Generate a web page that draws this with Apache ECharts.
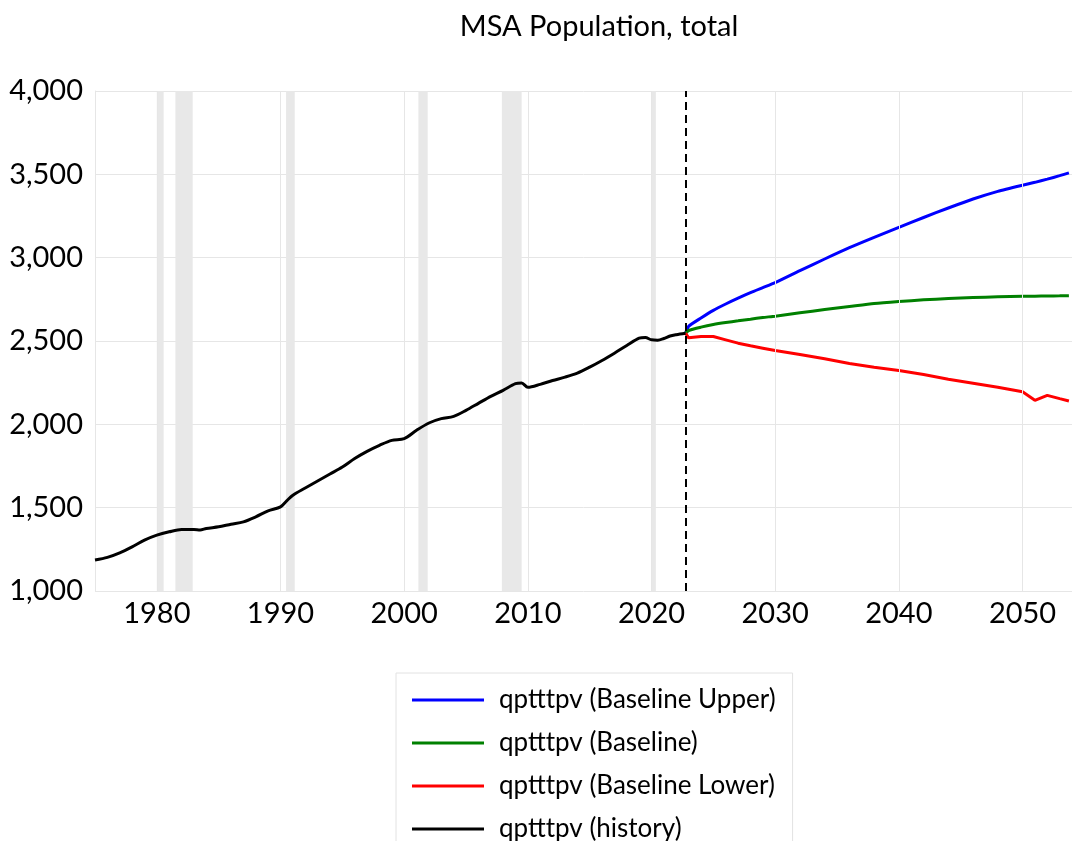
<!DOCTYPE html>
<html>
<head>
<meta charset="utf-8">
<script src="https://cdn.jsdelivr.net/npm/echarts@6/dist/echarts.min.js"></script>
<style>
  html, body { margin: 0; padding: 0; background: #ffffff; }
  #chart { width: 1084px; height: 841px; }
</style>
</head>
<body>
<div id="chart"></div>
<script>
// history
const histYears = [1975, 1976, 1977, 1978, 1979, 1980, 1981, 1982, 1983, 1983.5, 1984, 1985, 1986, 1987, 1988, 1989,
  1990, 1990.5, 1991, 1992, 1993, 1994, 1995, 1996, 1997, 1998, 1999, 2000, 2001, 2002, 2003, 2004, 2005,
  2006, 2007, 2008, 2009, 2009.5, 2010, 2011, 2012, 2013, 2014, 2015, 2016, 2017, 2018, 2019, 2019.5,
  2020, 2020.5, 2021, 2021.5, 2022, 2022.75];
const histValues = [1186, 1202, 1229, 1265, 1305, 1335, 1355, 1369, 1369, 1366, 1375, 1385, 1401, 1415, 1445, 1481,
  1505, 1541, 1575, 1618, 1660, 1702, 1744, 1795, 1838, 1874, 1904, 1914, 1964, 2008, 2034, 2048, 2084,
  2126, 2168, 2204, 2244, 2248, 2222, 2240, 2263, 2283, 2307, 2343, 2383, 2427, 2473, 2517, 2521,
  2507, 2505, 2515, 2530, 2538, 2547];

// forecasts
const fcYears = [2022.75, 2023, 2024, 2025, 2026, 2027, 2028, 2029, 2030, 2032, 2034, 2036, 2038, 2040,
  2042, 2044, 2046, 2048, 2050, 2051, 2052, 2053, 2053.75];
const upperValues = [2547, 2588, 2638, 2684, 2722, 2757, 2790, 2820, 2850, 2922, 2992, 3060, 3122, 3182,
  3241, 3298, 3352, 3398, 3435, 3452, 3471, 3492, 3509];
const baseValues = [2547, 2563, 2583, 2599, 2611, 2621, 2631, 2641, 2649, 2669, 2689, 2707, 2725, 2737,
  2747, 2755, 2761, 2765, 2768, 2769, 2770, 2771, 2772];
const lowerValues = [2547, 2519, 2527, 2527, 2507, 2487, 2471, 2457, 2443, 2419, 2393, 2365, 2343, 2323,
  2299, 2271, 2247, 2223, 2195, 2144, 2174, 2154, 2140];

// recession shading [start, end]
const recessions = [[1980.0, 1980.55], [1981.5, 1982.9], [1990.45, 1991.15], [2001.15, 2001.9], [2007.9, 2009.5], [2020.0, 2020.35]];
const decades = [1980, 1990, 2000, 2010, 2020, 2030, 2040, 2050];
const forecastStart = 2022.75;

const font = 'Lato';
const pairs = (xs, ys) => xs.map((x, i) => [x, ys[i]]);

let myChart = echarts.init(document.getElementById('chart'));
myChart.setOption({
  animation: false,
  backgroundColor: '#ffffff',
  title: {
    text: 'MSA Population, total',
    left: 594,
    top: 7,
    textAlign: 'center',
    textStyle: { fontFamily: font, fontSize: 29, fontWeight: 'normal', color: '#000' }
  },
  grid: { left: 95, right: 12, top: 91, bottom: 250 },
  legend: {
    orient: 'vertical',
    left: 396,
    top: 673,
    height: 200,
    padding: [14, 17, 14, 16],
    itemGap: 17,
    itemWidth: 72,
    itemHeight: 3,
    icon: 'rect',
    borderColor: '#e2e2e2',
    borderWidth: 1,
    textStyle: { fontFamily: font, fontSize: 26, color: '#000', lineHeight: 24, padding: [0, 0, 0, 10] },
    data: ['qptttpv (Baseline Upper)', 'qptttpv (Baseline)', 'qptttpv (Baseline Lower)', 'qptttpv (history)']
  },
  xAxis: {
    type: 'value',
    min: 1975,
    max: 2054,
    interval: 5,
    axisLine: { show: false },
    axisTick: { show: false },
    splitLine: { show: false },
    axisLabel: {
      fontFamily: font, fontSize: 29, color: '#000', margin: 8,
      formatter: v => (v % 10 === 0 ? String(v) : '')
    }
  },
  yAxis: {
    type: 'value',
    min: 1000,
    max: 4000,
    interval: 500,
    axisLine: { show: true, lineStyle: { color: '#e6e6e6', width: 1 } },
    axisTick: { show: false },
    splitLine: { lineStyle: { color: '#e6e6e6', width: 1 } },
    axisLabel: {
      fontFamily: font, fontSize: 29, color: '#000', margin: 12,
      formatter: v => v.toLocaleString('en-US')
    }
  },
  series: [
    {
      // decade grid lines
      type: 'line', data: [], silent: true, z: 1,
      markLine: {
        silent: true, symbol: 'none', label: { show: false },
        lineStyle: { color: '#e6e6e6', width: 1, type: 'solid' },
        data: decades.map(d => ({ xAxis: d }))
      }
    },
    {
      // recession shading
      type: 'line', data: [], silent: true, z: 2,
      markArea: {
        silent: true,
        itemStyle: { color: '#e8e8e8' },
        data: recessions.map(r => [{ xAxis: r[0] }, { xAxis: r[1] }])
      }
    },
    {
      name: 'qptttpv (Baseline Upper)', type: 'line', z: 4,
      data: pairs(fcYears, upperValues), showSymbol: false, smooth: 0.2,
      lineStyle: { color: '#0000ff', width: 3 }, itemStyle: { color: '#0000ff' }
    },
    {
      name: 'qptttpv (Baseline)', type: 'line', z: 4,
      data: pairs(fcYears, baseValues), showSymbol: false, smooth: 0.2,
      lineStyle: { color: '#008000', width: 3 }, itemStyle: { color: '#008000' }
    },
    {
      name: 'qptttpv (Baseline Lower)', type: 'line', z: 4,
      data: pairs(fcYears, lowerValues), showSymbol: false,
      lineStyle: { color: '#ff0000', width: 3 }, itemStyle: { color: '#ff0000' }
    },
    {
      name: 'qptttpv (history)', type: 'line', z: 5,
      data: pairs(histYears, histValues), showSymbol: false, smooth: 0.3,
      lineStyle: { color: '#000000', width: 3 }, itemStyle: { color: '#000000' },
      markLine: {
        silent: true, symbol: 'none', label: { show: false },
        lineStyle: { color: '#000', width: 2, type: [8, 5] },
        data: [{ xAxis: forecastStart }]
      }
    }
  ]
});
</script>
</body>
</html>
